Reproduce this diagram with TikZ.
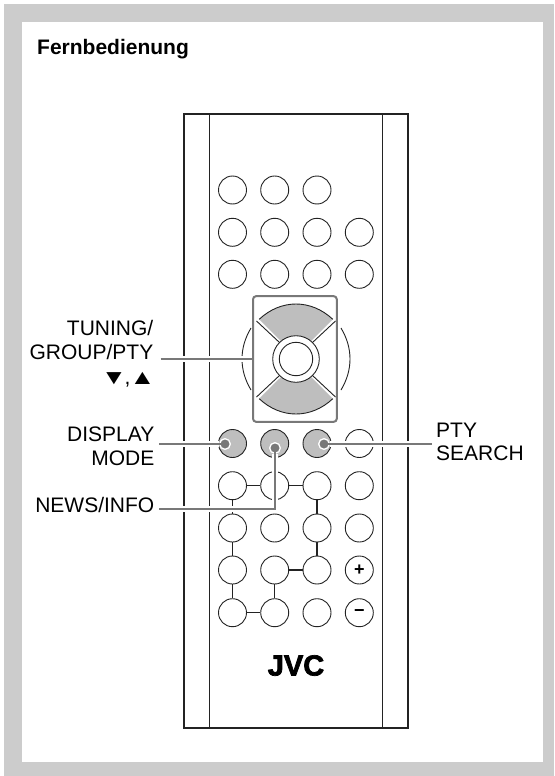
\documentclass[tikz,border=0pt]{standalone}
\usepackage{fontspec}
\setmainfont{Liberation Sans}
\newfontfamily\logofont[BoldFeatures={FakeBold=2.5}]{Liberation Sans}
\usepackage{tikz}
\usetikzlibrary{calc}
\usepackage{xcolor}
\definecolor{framegray}{RGB}{204,204,204}
\definecolor{keygray}{RGB}{190,190,190}
\definecolor{leadgray}{RGB}{120,120,120}
\definecolor{inkdark}{RGB}{35,35,35}
\newcommand{\trimark}[1]{\scalebox{1}[0.8]{\fontsize{26}{20}\selectfont #1}}
\tikzset{
  btn/.style={circle, draw=inkdark, line width=0.9pt, fill=white, minimum size=28pt, inner sep=0pt},
  btngray/.style={btn, fill=keygray},
  signbtn/.style={btn, font=\bfseries\fontsize{18}{18}\selectfont},
  link/.style={draw=inkdark, line width=1.4pt},
  thinline/.style={draw=inkdark, line width=0.9pt},
  leadhalo/.style={draw=white, line width=5.5pt},
  leadline/.style={draw=leadgray, line width=2pt},
  leaddot/.style={circle, fill=leadgray, draw=white, line width=1.2pt, minimum size=10.5pt, inner sep=0pt},
  lbl/.style={font=\fontsize{21}{23.6}\selectfont, inner sep=0pt}
}
\begin{document}
\begin{tikzpicture}[x=1pt, y=-1pt]
  \useasboundingbox (0,0) rectangle (554,776);
  \fill[framegray] (4,4) rectangle (554,776);
  \fill[white] (22,22) rectangle (543,762);
  \node[anchor=base west, inner sep=0pt, font=\bfseries\fontsize{21}{24}\selectfont] (title) at (37,55) {Fernbedienung};

  % body of the remote
  \draw[inkdark, line width=2pt] (184.3,114.3) rectangle (407.7,728);
  \draw[thinline, line width=1pt] (209.3,114.3) -- (209.3,728);
  \draw[thinline, line width=1pt] (382.7,114.3) -- (382.7,728);

  % button rows
  \node[btn] (a1) at (232.5,190) {}; \node[btn] (a2) at (274.7,190) {}; \node[btn] (a3) at (317,190) {};
  \node[btn] (b1) at (232.5,232.3) {}; \node[btn] (b2) at (274.7,232.3) {}; \node[btn] (b3) at (317,232.3) {}; \node[btn] (b4) at (359.3,232.3) {};
  \node[btn] (c1) at (232.5,274.3) {}; \node[btn] (c2) at (274.7,274.3) {}; \node[btn] (c3) at (317,274.3) {}; \node[btn] (c4) at (359.3,274.3) {};
  \node[btngray] (d1) at (232.5,443.5) {}; \node[btngray] (d2) at (274.7,443.5) {}; \node[btngray] (d3) at (317,443.5) {}; \node[btn] (d4) at (359.3,443.5) {};
  \node[btn] (e1) at (232.5,485.7) {}; \node[btn] (e2) at (274.7,485.7) {}; \node[btn] (e3) at (317,485.7) {}; \node[btn] (e4) at (359.3,485.7) {};
  \node[btn] (f1) at (232.5,528) {}; \node[btn] (f2) at (274.7,528) {}; \node[btn] (f3) at (317,528) {}; \node[btn] (f4) at (359.3,528) {};
  \node[btn] (g1) at (232.5,570) {}; \node[btn] (g2) at (274.7,570) {}; \node[btn] (g3) at (317,570) {}; \node[signbtn] (g4) at (359.3,570) {+};
  \node[btn] (h1) at (232.5,612.7) {}; \node[btn] (h2) at (274.7,612.7) {}; \node[btn] (h3) at (317,612.7) {}; \node[signbtn] (h4) at (359.3,612.7) {−};

  % links between buttons
  \draw[link] (e1) -- (e2); \draw[link] (e2) -- (e3); \draw[link] (e1) -- (f1); \draw[link] (f1) -- (g1); \draw[link] (g1) -- (h1);
  \draw[link] (e3) -- (f3); \draw[link] (f3) -- (g3); \draw[link] (g2) -- (g3); \draw[link] (g2) -- (h2); \draw[link] (h1) -- (h2);

  \node[inner sep=0pt, font=\logofont\bfseries\fontsize{29}{30}\selectfont] (logo) at (296,665.5) {JVC};

  % cursor keys
  \coordinate (pad) at (296,359);
  \draw[thinline] ($(pad)+(-45,-31)$) .. controls ($(pad)+(-57,-11)$) and ($(pad)+(-57,11)$) .. ($(pad)+(-45,31)$);
  \draw[thinline] ($(pad)+(45,-31)$) .. controls ($(pad)+(57,-11)$) and ($(pad)+(57,11)$) .. ($(pad)+(45,31)$);
  \fill[keygray] ($(pad)+(-36.8,-39.7)$) .. controls ($(pad)+(-15,-60.1)$) and ($(pad)+(15,-60.1)$) .. ($(pad)+(36.8,-39.7)$) -- ($(pad)+(15,-18)$) -- ($(pad)+(-15,-18)$) -- cycle;
  \fill[keygray] ($(pad)+(-36.8,39.7)$) .. controls ($(pad)+(-15,60.1)$) and ($(pad)+(15,60.1)$) .. ($(pad)+(36.8,39.7)$) -- ($(pad)+(15,18)$) -- ($(pad)+(-15,18)$) -- cycle;
  \draw[thinline] ($(pad)+(-36.8,-39.7)$) .. controls ($(pad)+(-15,-60.1)$) and ($(pad)+(15,-60.1)$) .. ($(pad)+(36.8,-39.7)$);
  \draw[thinline] ($(pad)+(-36.8,39.7)$) .. controls ($(pad)+(-15,60.1)$) and ($(pad)+(15,60.1)$) .. ($(pad)+(36.8,39.7)$);
  \draw[thinline] ($(pad)+(-39.5,-38)$) -- ($(pad)+(-16.5,-16.5)$); \draw[thinline] ($(pad)+(39.5,-38)$) -- ($(pad)+(16.5,-16.5)$);
  \draw[thinline] ($(pad)+(-39.5,38)$) -- ($(pad)+(-16.5,16.5)$); \draw[thinline] ($(pad)+(39.5,38)$) -- ($(pad)+(16.5,16.5)$);
  \node[btn, minimum size=46.6pt] (ring) at (pad) {};
  \node[btn, minimum size=33.4pt] (ok) at (pad) {};
  \node[draw=leadgray, line width=2pt, rounded corners=3pt, minimum width=83.7pt, minimum height=125.6pt, inner sep=0pt] (padbox) at (294.9,359) {};

  % labels and their leaders
  \node[lbl, align=right, anchor=base east] (tuning) at (153.5,359.3) {TUNING/\\GROUP/PTY};
  \node[lbl, anchor=base east] (arrows) at (155.5,384) {\trimark{▼}\kern-2pt,\kern-1pt\trimark{▲}};
  \node[lbl, align=right, anchor=base east] (display) at (154.5,465.3) {DISPLAY\\MODE};
  \node[lbl, anchor=base east] (news) at (154.5,512.7) {NEWS/INFO};
  \node[lbl, align=left, anchor=base west] (search) at (436,460.7) {PTY\\SEARCH};
  \coordinate (tuningend) at (160.5,359); \coordinate (displayend) at (159,444); \coordinate (newsend) at (159,509); \coordinate (searchend) at (431.7,444);
  \node[leaddot] (dot1) at (225,444) {}; \node[leaddot] (dot2) at (275,448) {}; \node[leaddot] (dot3) at (324,444) {};
  \draw[leadhalo] (tuningend) -- (padbox.west);
  \draw[leadhalo] (displayend) -- (dot1);
  \draw[leadhalo] (dot2) |- (newsend);
  \draw[leadhalo] (searchend) -- (dot3);
  \node[leaddot] at (dot1) {}; \node[leaddot] at (dot2) {}; \node[leaddot] at (dot3) {};
  \draw[leadline] (tuningend) -- (padbox.west);
  \draw[leadline] (displayend) -- (dot1.center);
  \draw[leadline] (dot2.center) |- (newsend);
  \draw[leadline] (searchend) -- (dot3.center);
\end{tikzpicture}
\end{document}
